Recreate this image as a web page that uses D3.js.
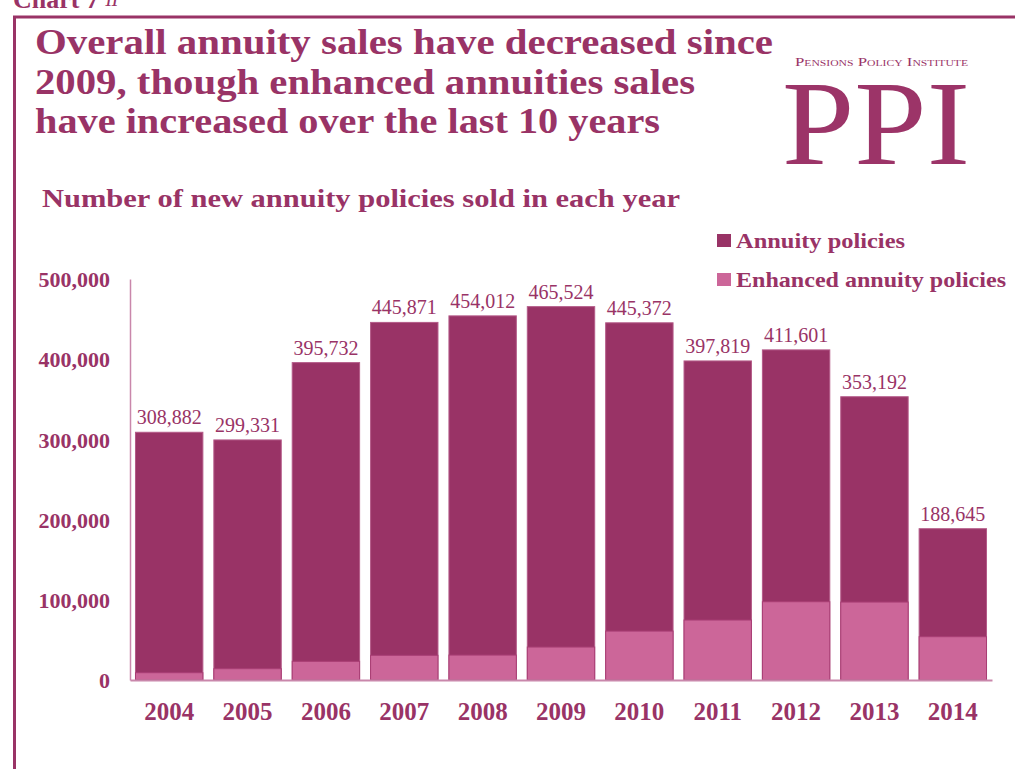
<!DOCTYPE html>
<html><head><meta charset="utf-8">
<script src="https://cdn.jsdelivr.net/npm/d3@7"></script>
<style>
html,body{margin:0;padding:0;background:#fff;}
svg{display:block;}
text{font-family:"Liberation Serif","Times New Roman",serif;}
</style></head>
<body>
<svg id="chart" width="1015" height="769"></svg>
<script>
// ---- data ----
const years = ["2004","2005","2006","2007","2008","2009","2010","2011","2012","2013","2014"];
const annuityTotals = [308882, 299331, 395732, 445871, 454012, 465524, 445372, 397819, 411601, 353192, 188645];
const enhancedValues = [9100, 14100, 23300, 30800, 31100, 41100, 61000, 74800, 97600, 97200, 54000];
const yTickValues = [0, 100000, 200000, 300000, 400000, 500000];
const seriesNames = ["Annuity policies", "Enhanced annuity policies"];
const titleLines = ["Overall annuity sales have decreased since", "2009, though enhanced annuities sales", "have increased over the last 10 years"];
const subtitle = "Number of new annuity policies sold in each year";

// ---- styles ----
const DARK = "#993366", LIGHT = "#CC6699", TXT = "#993366", AXIS = "#c987ab";
const svg = d3.select("#chart");
const fmt = d3.format(",");

function fit(sel, w){ sel.attr("textLength", w).attr("lengthAdjust", "spacingAndGlyphs"); }

// frame
svg.append("line").attr("x1",13).attr("x2",1015).attr("y1",17).attr("y2",17).attr("stroke",DARK).attr("stroke-width",3);
svg.append("line").attr("x1",14.5).attr("x2",14.5).attr("y1",16).attr("y2",769).attr("stroke",DARK).attr("stroke-width",3);

// "Chart" caption cut at top
const cap = svg.append("text").attr("x",13).attr("y",8).attr("fill",TXT).attr("font-size",26).attr("font-weight","bold");
cap.append("tspan").text("Chart 7");
cap.append("tspan").attr("dx",6).attr("dy",-2).attr("font-size",14).attr("font-style","italic").text("11");

// title
titleLines.forEach((t,i)=>{
  const widths=[738,660,625];
  svg.append("text").attr("x",35).attr("y",54+i*39.5).attr("fill",TXT)
    .attr("font-size",36).attr("font-weight","bold").text(t).call(fit,widths[i]);
});

// subtitle
svg.append("text").attr("x",42).attr("y",207).attr("fill",TXT).attr("font-size",25)
  .attr("font-weight","bold").text(subtitle).call(fit,638);

// logo
svg.append("text").attr("x",795).attr("y",66).attr("fill",TXT).attr("font-size",13)
  .style("font-variant","small-caps").text("Pensions Policy Institute").call(fit,173);
svg.append("text").attr("x",782).attr("y",164).attr("fill","#9c3468").attr("font-size",120)
  .text("PPI").call(fit,188);

// scales
const x = d3.scaleBand().domain(years).range([130,992]).paddingInner(0.14).paddingOuter(0.07);
const y = d3.scaleLinear().domain([0,500000]).range([680,279]);

// y axis
const yAxis = d3.axisLeft(y).tickValues(yTickValues).tickFormat(fmt).tickSize(0).tickPadding(20);
const gy = svg.append("g").attr("transform","translate(130,0)").call(yAxis);
gy.select(".domain").attr("stroke",AXIS).attr("stroke-width",1.5);
gy.selectAll("text").attr("fill",TXT).attr("font-size",22).attr("font-weight","bold")
  .attr("font-family",'"Liberation Serif",serif').attr("dy","0.35em");

// bars
const rows = years.map((yr,i)=>({yr, total:annuityTotals[i], enh:enhancedValues[i]}));
svg.append("g").selectAll("rect").data(rows).join("rect")
  .attr("x",d=>x(d.yr)).attr("width",x.bandwidth())
  .attr("y",d=>y(d.total)).attr("height",d=>y(0)-y(d.total))
  .attr("fill",DARK).attr("stroke","#b45a88").attr("stroke-width",1);
svg.append("g").selectAll("rect").data(rows).join("rect")
  .attr("x",d=>x(d.yr)).attr("width",x.bandwidth())
  .attr("y",d=>y(d.enh)).attr("height",d=>y(0)-y(d.enh))
  .attr("fill",LIGHT).attr("stroke","#a83e74").attr("stroke-width",1);

// value labels
svg.append("g").selectAll("text").data(rows).join("text")
  .attr("x",d=>x(d.yr)+x.bandwidth()/2).attr("y",d=>y(d.total)-8)
  .attr("text-anchor","middle").attr("fill",TXT).attr("font-size",20)
  .text(d=>fmt(d.total));

// x axis
const xAxis = d3.axisBottom(x).tickSize(0).tickPadding(22);
const gx = svg.append("g").attr("transform","translate(0,680)").call(xAxis);
gx.select(".domain").attr("stroke",AXIS).attr("stroke-width",2);
gx.selectAll("text").attr("fill",TXT).attr("font-size",25).attr("font-weight","bold")
  .attr("font-family",'"Liberation Serif",serif');

// legend
const legW=[169,270];
seriesNames.forEach((n,i)=>{
  const ly = 234 + i*39;
  svg.append("rect").attr("x",717).attr("y",ly).attr("width",14).attr("height",13)
    .attr("fill", i===0?DARK:LIGHT);
  svg.append("text").attr("x",736).attr("y",ly+13.5).attr("fill",TXT).attr("font-size",21)
    .attr("font-weight","bold").text(n).call(fit,legW[i]);
});
</script>
</body></html>
